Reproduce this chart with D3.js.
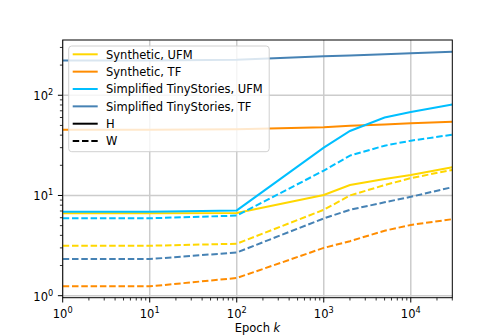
<!DOCTYPE html>
<html>
<head>
<meta charset="utf-8">
<script src="https://cdn.jsdelivr.net/npm/d3@7"></script>
<style>
  body { margin: 0; background: #fff; }
  text { font-family: "DejaVu Sans", sans-serif; }
</style>
</head>
<body>
<div id="chart"></div>
<script>
// epochs where the curves were sampled
var epochs = [1, 10, 100, 1000, 2000, 5000, 10000, 30000];

// H (solid) and W (dashed) per setting
var synUfmH = [6.65, 6.65, 6.7, 10.1, 12.7, 14.6, 16.0, 19.1];
var synUfmW = [3.15, 3.15, 3.3, 7.2, 10.0, 12.7, 14.9, 18.0];
var synTfH  = [45.4, 45.4, 45.8, 48, 49.5, 51, 52.5, 54.5];
var synTfW  = [1.24, 1.24, 1.5, 3.0, 3.5, 4.45, 5.08, 5.8];
var tsUfmH  = [6.9, 6.9, 7.1, 30, 44, 60, 68, 81];
var tsUfmW  = [5.92, 5.92, 6.3, 17.7, 25, 31.4, 35.2, 40.4];
var tsTfH   = [222, 222, 226, 245, 250, 257, 262, 272];
var tsTfW   = [2.32, 2.32, 2.7, 5.9, 7.2, 8.55, 9.7, 12.1];

var legendLabels = ["Synthetic, UFM", "Synthetic, TF", "Simplified TinyStories, UFM", "Simplified TinyStories, TF", "H", "W"];
var xTicks = [1, 10, 100, 1000, 10000];
var yTicks = [1, 10, 100];

var colors = ["#ffd700", "#ff8c00", "#00bfff", "#4682b4"];
var series = [
  {vals: synUfmH, c: 0, dash: false}, {vals: synUfmW, c: 0, dash: true},
  {vals: synTfH, c: 1, dash: false},  {vals: synTfW, c: 1, dash: true},
  {vals: tsUfmH, c: 2, dash: false},  {vals: tsUfmW, c: 2, dash: true},
  {vals: tsTfH, c: 3, dash: false},   {vals: tsTfW, c: 3, dash: true}
];

var W = 503, H = 335;
var margin = {top: 40, right: 50.7, bottom: 37.3, left: 62.7},
    width = W - margin.left - margin.right,
    height = H - margin.top - margin.bottom;

var x = d3.scaleLog().domain([1, 30000]).range([0, width]);
var y = d3.scaleLog().domain([0.955, 356]).range([height, 0]);

var svg = d3.select("#chart").append("svg")
    .attr("width", W).attr("height", H)
  .append("g")
    .attr("transform", "translate(" + margin.left + "," + margin.top + ")");

svg.append("defs").append("clipPath").attr("id", "clip")
  .append("rect").attr("width", width).attr("height", height);

// grid
svg.append("g").selectAll("line").data(xTicks).enter().append("line")
    .attr("x1", d => x(d)).attr("x2", d => x(d))
    .attr("y1", 0).attr("y2", height)
    .attr("stroke", "#cccccc").attr("stroke-width", 1.5);
svg.append("g").selectAll("line").data(yTicks).enter().append("line")
    .attr("y1", d => y(d)).attr("y2", d => y(d))
    .attr("x1", 0).attr("x2", width)
    .attr("stroke", "#cccccc").attr("stroke-width", 1.5);

// lines
var line = d3.line()
    .x(function(d, i) { return x(epochs[i]); })
    .y(function(d) { return y(d); });

svg.append("g").attr("clip-path", "url(#clip)")
  .selectAll("path").data(series).enter().append("path")
    .attr("d", d => line(d.vals))
    .attr("fill", "none")
    .attr("stroke", d => colors[d.c])
    .attr("stroke-width", 2)
    .attr("stroke-dasharray", d => d.dash ? "6.5,2.8" : null);

// axes
function minorTicks(scale) {
  var dom = scale.domain(), out = [];
  for (var e = -1; e <= 5; e++) {
    for (var m = 2; m <= 9; m++) {
      var v = m * Math.pow(10, e);
      if (v >= dom[0] && v <= dom[1]) out.push(v);
    }
  }
  return out;
}

var xAxis = svg.append("g").attr("transform", "translate(0," + height + ")");
xAxis.selectAll(".maj").data(xTicks).enter().append("line")
    .attr("x1", d => x(d)).attr("x2", d => x(d)).attr("y1", 0).attr("y2", 4.8)
    .attr("stroke", "#000").attr("stroke-width", 1);
xAxis.selectAll(".min").data(minorTicks(x)).enter().append("line")
    .attr("x1", d => x(d)).attr("x2", d => x(d)).attr("y1", 0).attr("y2", 2.8)
    .attr("stroke", "#000").attr("stroke-width", 0.8);
var xl = xAxis.selectAll(".lab").data(xTicks).enter().append("text")
    .attr("x", d => x(d)).attr("y", 20).attr("text-anchor", "middle")
    .attr("font-size", "11.5px");
xl.append("tspan").text("10");
xl.append("tspan").attr("dy", -5).attr("font-size", "8.2px").text(d => Math.round(Math.log10(d)));

var yAxis = svg.append("g");
yAxis.selectAll(".maj").data(yTicks).enter().append("line")
    .attr("y1", d => y(d)).attr("y2", d => y(d)).attr("x1", 0).attr("x2", -4.8)
    .attr("stroke", "#000").attr("stroke-width", 1);
yAxis.selectAll(".min").data(minorTicks(y)).enter().append("line")
    .attr("y1", d => y(d)).attr("y2", d => y(d)).attr("x1", 0).attr("x2", -2.8)
    .attr("stroke", "#000").attr("stroke-width", 0.8);
var yl = yAxis.selectAll(".lab").data(yTicks).enter().append("text")
    .attr("x", -9.5).attr("y", d => y(d) + 5).attr("text-anchor", "end")
    .attr("font-size", "11.5px");
yl.append("tspan").text("10");
yl.append("tspan").attr("dy", -5).attr("font-size", "8.2px").text(d => Math.round(Math.log10(d)));

// frame
svg.append("rect").attr("width", width).attr("height", height)
    .attr("fill", "none").attr("stroke", "#000").attr("stroke-width", 1);

// axis label
var xlab = svg.append("text").attr("x", width / 2).attr("y", height + 34)
    .attr("text-anchor", "middle").attr("font-size", "11.5px");
xlab.append("tspan").text("Epoch ");
xlab.append("tspan").attr("font-style", "italic").text("k");

// legend
var leg = svg.append("g").attr("transform", "translate(6,6)");
leg.append("rect").attr("width", 200.5).attr("height", 105.7).attr("rx", 3)
    .attr("fill", "#fff").attr("fill-opacity", 0.8)
    .attr("stroke", "#d0d0d0").attr("stroke-width", 1);
var legColors = [colors[0], colors[1], colors[2], colors[3], "#000", "#000"];
var rows = leg.selectAll(".row").data(legendLabels).enter().append("g")
    .attr("transform", (d, i) => "translate(0," + (8.3 + i * 17.35) + ")");
rows.append("line").attr("x1", 4).attr("x2", 29)
    .attr("stroke", (d, i) => legColors[i]).attr("stroke-width", 2)
    .attr("stroke-dasharray", (d, i) => i === 5 ? "6.5,2.8" : null);
rows.append("text").attr("x", 37.3).attr("y", 4.2)
    .attr("font-size", "11.5px").text(d => d);
</script>
</body>
</html>
